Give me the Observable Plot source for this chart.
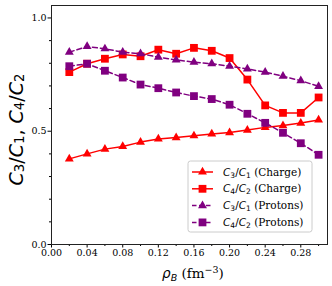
<!DOCTYPE html>
<html>
<head>
<meta charset="utf-8">
<script src="https://cdn.jsdelivr.net/npm/d3@7"></script>
<script src="https://cdn.jsdelivr.net/npm/@observablehq/plot@0.6"></script>
<style>
  html, body { margin: 0; padding: 0; background: #fff; }
  #chart { position: relative; width: 332px; height: 286px; }
</style>
</head>
<body>
<div id="chart"></div>
<script>
// ---- data ----
const rhoB = [0.02, 0.04, 0.06, 0.08, 0.10, 0.12, 0.14, 0.16, 0.18, 0.20, 0.22, 0.24, 0.26, 0.28, 0.30];
const c3c1Charge  = [0.378, 0.400, 0.421, 0.433, 0.452, 0.466, 0.472, 0.480, 0.488, 0.494, 0.505, 0.517, 0.525, 0.536, 0.550];
const c4c2Charge  = [0.761, 0.798, 0.820, 0.839, 0.831, 0.860, 0.842, 0.868, 0.855, 0.823, 0.728, 0.614, 0.581, 0.581, 0.649];
const c3c1Protons = [0.849, 0.874, 0.864, 0.849, 0.842, 0.827, 0.815, 0.805, 0.798, 0.787, 0.775, 0.761, 0.743, 0.723, 0.698];
const c4c2Protons = [0.787, 0.798, 0.767, 0.737, 0.706, 0.690, 0.671, 0.655, 0.642, 0.617, 0.577, 0.537, 0.493, 0.447, 0.396];

const seriesNames = ["C3/C1 (Charge)", "C4/C2 (Charge)", "C3/C1 (Protons)", "C4/C2 (Protons)"];
const seriesValues = [c3c1Charge, c4c2Charge, c3c1Protons, c4c2Protons];
const seriesLabel = [["3", "1", "Charge"], ["4", "2", "Charge"], ["3", "1", "Protons"], ["4", "2", "Protons"]];

const xTicks = [0.00, 0.04, 0.08, 0.12, 0.16, 0.20, 0.24, 0.28];
const xMinor = [0.02, 0.06, 0.10, 0.14, 0.18, 0.22, 0.26, 0.30];
const yTicks = [0.0, 0.5, 1.0];
const yMinor = [0.1, 0.2, 0.3, 0.4, 0.6, 0.7, 0.8, 0.9];

// ---- styles ----
const styles = [
  {color: "#ff0000", dash: null, symbol: "triangle", r: 3.3},
  {color: "#ff0000", dash: null, symbol: "square", r: 4.4},
  {color: "#800080", dash: "5,3", symbol: "triangle", r: 3.3},
  {color: "#800080", dash: "5,3", symbol: "square", r: 4.4}
];

const table = seriesNames.flatMap((s, i) => rhoB.map((x, j) => ({series: s, idx: i, x, y: seriesValues[i][j]})));

const W = 332, H = 286;
const mL = 51, mR = 5, mT = 5, mB = 42;
const serif = "DejaVu Serif";
const sans = "DejaVu Sans";

const marks = [];
seriesNames.forEach((s, i) => {
  const st = styles[i];
  const d = table.filter(r => r.idx === i);
  marks.push(Plot.line(d, {x: "x", y: "y", stroke: st.color, strokeWidth: 1.5, strokeDasharray: st.dash}));
  marks.push(Plot.dot(d, {x: "x", y: "y", symbol: () => st.symbol, fill: st.color, stroke: "none", r: st.r}));
});

const plot = Plot.plot({
  width: W, height: H,
  marginLeft: mL, marginRight: mR, marginTop: mT, marginBottom: mB,
  style: {background: "#fff", color: "#000", fontFamily: serif, fontSize: "9px"},
  x: {domain: [0, 0.31]},
  y: {domain: [0, 1.055]},
  symbol: {type: "identity"},
  marks: [
    Plot.axisX({ticks: xTicks, tickFormat: d => d.toFixed(2), tickSize: 3.5, tickPadding: 1.5, label: null, fontSize: 9.5, fontFamily: serif}),
    Plot.axisX({ticks: xMinor, tickFormat: () => "", tickSize: 2, label: null}),
    Plot.axisY({ticks: yTicks, tickFormat: d => d.toFixed(1), tickSize: 3.5, tickPadding: 1.5, label: null, fontSize: 9.5, fontFamily: serif}),
    Plot.axisY({ticks: yMinor, tickFormat: () => "", tickSize: 2, label: null}),
    ...marks,
    Plot.frame({stroke: "#222", strokeWidth: 1})
  ]
});
document.getElementById("chart").appendChild(plot);

const svg = d3.select(plot);

// y label
const yl = svg.append("text")
  .attr("transform", `translate(17, ${(mT + H - mB) / 2 + 5}) rotate(-90)`)
  .attr("text-anchor", "middle")
  .attr("dominant-baseline", "middle")
  .style("font-family", sans).style("font-size", "19px").attr("fill", "#000");
function addC(t, sub, fs) {
  t.append("tspan").style("font-style", "italic").text("C");
  t.append("tspan").attr("baseline-shift", "-20%").style("font-size", (fs * 0.7) + "px").text(sub);
}
addC(yl, "3", 19); yl.append("tspan").text("/"); addC(yl, "1", 19);
yl.append("tspan").text(", ");
addC(yl, "4", 19); yl.append("tspan").text("/"); addC(yl, "2", 19);

// x label
const xl = svg.append("text")
  .attr("x", (mL + W - mR) / 2 + 4).attr("y", 278)
  .attr("text-anchor", "middle")
  .style("font-size", "13.5px").attr("fill", "#000");
xl.append("tspan").style("font-family", sans).style("font-style", "italic").text("ρ");
xl.append("tspan").style("font-family", sans).style("font-style", "italic").style("font-size", "9.5px").attr("dy", 3).text("B");
xl.append("tspan").style("font-family", serif).attr("dy", -3).text(" (fm");
xl.append("tspan").style("font-family", serif).style("font-size", "9.5px").attr("dy", -5).text("−3");
xl.append("tspan").style("font-family", serif).attr("dy", 5).text(")");

// legend
const lg = svg.append("g").attr("text-anchor", "start");
lg.append("rect").attr("x", 188).attr("y", 161).attr("width", 124).attr("height", 71)
  .attr("rx", 2.5).attr("fill", "#fff").attr("fill-opacity", 0.85).attr("stroke", "#ccc").attr("stroke-width", 1);
const symGen = {triangle: d3.symbolTriangle, square: d3.symbolSquare};
seriesNames.forEach((s, i) => {
  const st = styles[i];
  const yy = 172 + i * 16.8;
  const g = lg.append("g");
  const ln = g.append("line").attr("x1", 192).attr("x2", 213).attr("y1", yy).attr("y2", yy)
    .attr("stroke", st.color).attr("stroke-width", 1.5);
  if (st.dash) ln.attr("stroke-dasharray", "4.5,2.5");
  g.append("path").attr("transform", `translate(202.5,${yy})`)
    .attr("d", d3.symbol(symGen[st.symbol], Math.PI * st.r * st.r)())
    .attr("fill", st.color);
  const t = g.append("text").attr("x", 223).attr("y", yy).attr("dy", "0.35em")
    .attr("text-anchor", "start")
    .style("font-size", "10.5px").attr("fill", "#000");
  const [a, b, kind] = seriesLabel[i];
  t.append("tspan").style("font-family", sans).style("font-style", "italic").text("C");
  t.append("tspan").style("font-family", sans).style("font-size", "7.5px").attr("dy", 2).text(a);
  t.append("tspan").style("font-family", sans).attr("dy", -2).text("/");
  t.append("tspan").style("font-family", sans).style("font-style", "italic").text("C");
  t.append("tspan").style("font-family", sans).style("font-size", "7.5px").attr("dy", 2).text(b);
  t.append("tspan").style("font-family", serif).attr("dy", -2).text(" (" + kind + ")");
});
</script>
</body>
</html>
